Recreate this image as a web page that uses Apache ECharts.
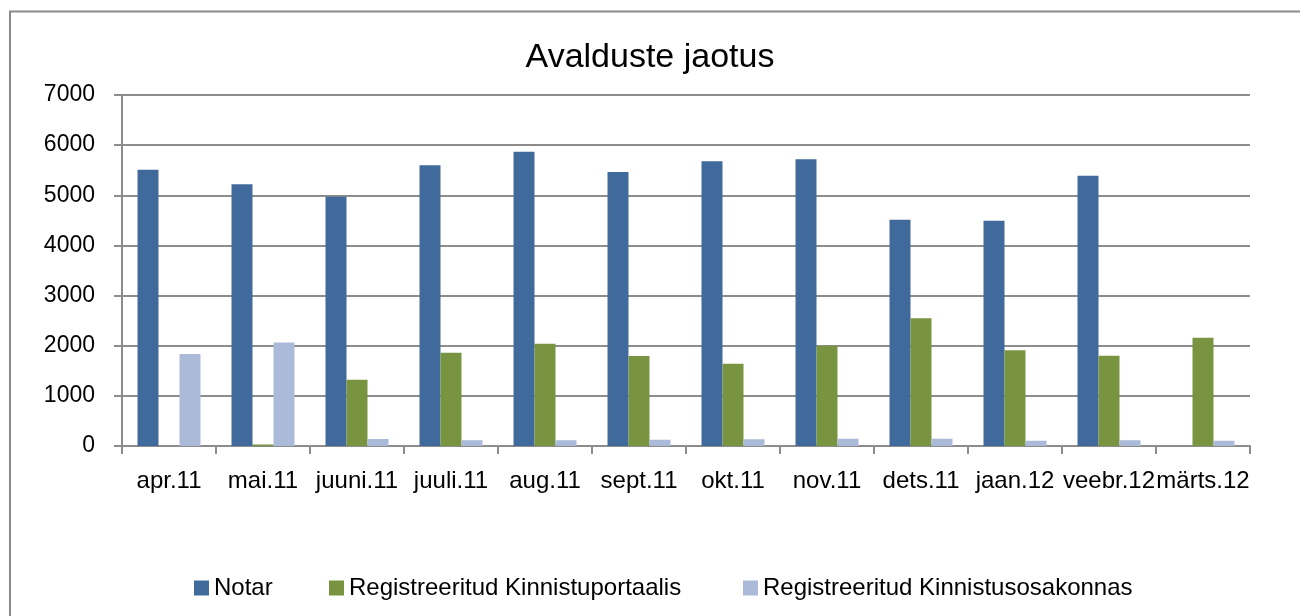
<!DOCTYPE html>
<html>
<head>
<meta charset="utf-8">
<script src="https://cdn.jsdelivr.net/npm/echarts@6/dist/echarts.min.js"></script>
<style>
  html, body { margin: 0; padding: 0; background: #fff; }
  #chart { width: 1300px; height: 616px; }
</style>
</head>
<body>
<div id="chart"></div>
<script>
  // kuud
  var months = ['apr.11', 'mai.11', 'juuni.11', 'juuli.11', 'aug.11', 'sept.11', 'okt.11', 'nov.11', 'dets.11', 'jaan.12', 'veebr.12', 'märts.12'];
  var notar = [5510, 5220, 4970, 5600, 5870, 5465, 5680, 5720, 4510, 4490, 5390, 0];
  var portaal = [0, 30, 1320, 1860, 2040, 1795, 1640, 2000, 2550, 1910, 1800, 2160];
  var osakond = [1835, 2065, 140, 115, 115, 125, 135, 145, 145, 105, 115, 105];
  var yTicks = [0, 1000, 2000, 3000, 4000, 5000, 6000, 7000];

  var font = 'Liberation Sans, Arial, sans-serif';
  var gridColor = '#8c8c8c';

  var chart = echarts.init(document.getElementById('chart'));
  chart.setOption({
    animation: false,
    color: ['#416a9c', '#789440', '#abbad8'],
    title: {
      text: 'Avalduste jaotus',
      left: 'center',
      top: 36,
      textStyle: { fontFamily: font, fontSize: 34, fontWeight: 'normal', color: '#000' }
    },
    graphic: [{
      type: 'rect',
      shape: { x: 10, y: 11.5, width: 1300, height: 620 },
      style: { fill: 'none', stroke: '#8a8a8a', lineWidth: 2 }
    }],
    // eraldi legendid, et paigutus klapiks
    legend: [
      { data: ['Notar'], left: 189, top: 571 },
      { data: ['Registreeritud Kinnistuportaalis'], left: 324, top: 571 },
      { data: ['Registreeritud Kinnistusosakonnas'], left: 738, top: 571 }
    ].map(function (l) {
      l.itemWidth = 15;
      l.itemHeight = 15;
      l.itemGap = 6;
      l.icon = 'rect';
      l.textStyle = { fontFamily: font, fontSize: 24, color: '#000' };
      return l;
    }),
    grid: { left: 122, right: 50, top: 95, bottom: 170 },
    xAxis: {
      type: 'category',
      data: months,
      axisLine: { lineStyle: { color: gridColor, width: 2 } },
      axisTick: { show: true, length: 8, lineStyle: { color: gridColor, width: 2 } },
      axisLabel: { interval: 0, margin: 23, fontFamily: font, fontSize: 24, color: '#000' }
    },
    yAxis: {
      type: 'value',
      min: yTicks[0],
      max: yTicks[yTicks.length - 1],
      interval: 1000,
      axisLine: { show: true, lineStyle: { color: gridColor, width: 2 } },
      axisTick: { show: true, length: 8, lineStyle: { color: gridColor, width: 2 } },
      splitLine: { lineStyle: { color: gridColor, width: 2 } },
      axisLabel: {
        margin: 27, fontFamily: font, fontSize: 23, color: '#000',
        formatter: function (v) { return String(v); }
      }
    },
    series: [
      { name: 'Notar', type: 'bar', data: notar, barGap: '0%', barCategoryGap: '33%' },
      { name: 'Registreeritud Kinnistuportaalis', type: 'bar', data: portaal },
      { name: 'Registreeritud Kinnistusosakonnas', type: 'bar', data: osakond }
    ]
  });
</script>
</body>
</html>
